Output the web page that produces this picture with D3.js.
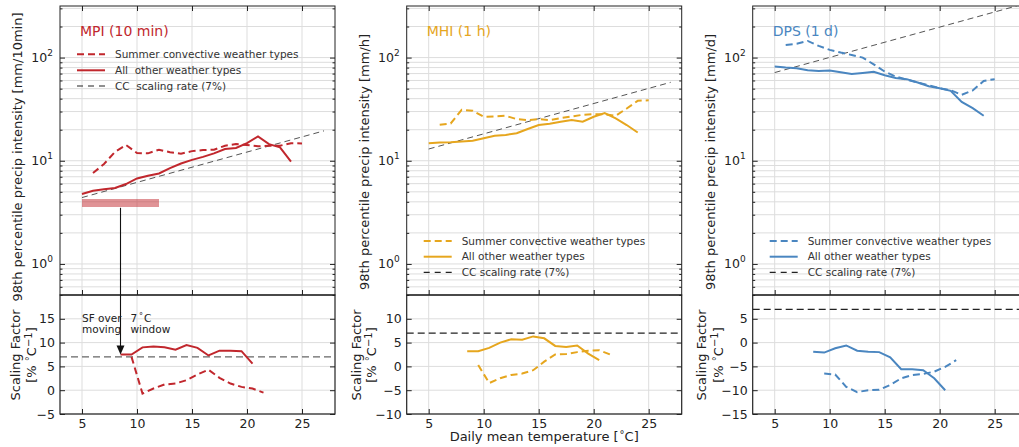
<!DOCTYPE html>
<html>
<head>
<meta charset="utf-8">
<script src="https://cdn.jsdelivr.net/npm/d3@7"></script>
<style>
  body { margin: 0; background: #fff; }
  svg { display: block; font-family: "DejaVu Sans", sans-serif; }
  text { white-space: pre; }
</style>
</head>
<body>
<svg id="chart" width="1019" height="447"></svg>
<script>
// ---- data -------------------------------------------------------------
// daily mean temperature bins (°C) for the 98th percentile intensities
const tempBins = [5, 6, 7, 8, 9, 10, 11, 12, 13, 14, 15, 16, 17, 18, 19, 20, 21, 22, 23, 24, 25];
// centres of the 7 °C moving windows used for the scaling factor
const sfBins = [8.5, 9.5, 10.5, 11.5, 12.5, 13.5, 14.5, 15.5, 16.5, 17.5, 18.5, 19.5, 20.5, 21.5];

// 98th percentile precipitation intensity
const mpiOther = [4.77, 5.13, 5.3, 5.45, 5.95, 6.74, 7.16, 7.53, 8.5, 9.4, 10.2, 10.9, 11.8, 13.0, 13.3, 14.8, 17.2, 14.5, 13.5, 9.8, null];
const mpiConv  = [null, 7.6, 9.3, 12.2, 14.2, 11.9, 11.8, 12.8, 12.1, 11.7, 12.4, 12.7, 12.8, 14.0, 14.5, 14.2, 13.8, 14.0, 14.0, 14.8, 14.7];
const mhiOther = [14.8, 15.0, 15.1, 15.4, 15.6, 16.5, 17.5, 17.8, 18.5, 20.3, 22.2, 22.8, 23.9, 24.8, 23.9, 26.7, 29.0, 25.7, 22.2, 18.8, null];
const mhiConv  = [null, 22.3, 23.0, 31.2, 30.5, 26.7, 26.9, 27.3, 25.3, 24.8, 25.3, 24.8, 25.9, 26.9, 27.9, 28.3, 28.3, 27.3, 32.1, 38.1, 38.6];
const dpsOther = [81.8, 80, 78.9, 75.5, 74.3, 74.8, 72.2, 69.5, 71, 72.8, 67.5, 63.5, 61.8, 57.3, 52.8, 50.5, 47.6, 37.2, 32.4, 27.3, null];
const dpsConv  = [null, 132.7, 136, 145, 129.8, 118.8, 111.8, 106, 100, 86, 73.2, 65.5, 61, 57.3, 54, 50.5, 48.3, 43.6, 48, 59.4, 61.8];

// Clausius-Clapeyron reference line (7 % per °C), end points
const ccTemps = [5, 27];
const ccMPI = [4.4, 19.5];
const ccMHI = [13.0, 57.6];
const ccDPS = [71.6, 317];
const ccRate = 7;

// scaling factors [% per °C]
const mpiSfOther = [7.5, 7.5, 9.0, 9.2, 9.0, 8.5, 9.5, 8.9, 7.3, 8.3, 8.3, 8.2, 5.6, null];
const mpiSfConv  = [null, 7.0, -0.7, 0.35, 1.2, 1.4, 2.1, 3.3, 4.3, 2.6, 1.4, 0.7, 0.35, -0.5];
const mhiSfOther = [3.2, 3.2, 3.9, 5.0, 5.7, 5.6, 6.3, 5.9, 4.3, 4.1, 4.4, 2.7, 1.3, null];
const mhiSfConv  = [null, 0.3, -3.5, -2.5, -1.8, -1.5, -0.8, 1.0, 2.5, 2.6, 3.0, 3.3, 3.4, 2.5];
const dpsSfOther = [-1.9, -2.1, -1.2, -0.6, -1.7, -1.9, -2.0, -3.1, -5.6, -5.6, -5.8, -7.5, -10.0, null];
const dpsSfConv  = [null, -6.5, -6.7, -9.3, -10.4, -10.0, -9.9, -8.9, -7.5, -6.8, -6.6, -6.1, -5.1, -3.7];

// axis ticks
const xTicks = [5, 10, 15, 20, 25];
const logMajor = [1, 10, 100];
const mpiSfTicks = [-5, 0, 5, 10, 15];
const mhiSfTicks = [-10, -5, 0, 5, 10];
const dpsSfTicks = [-15, -10, -5, 0, 5];
const mpiSfDomain = [-5, 20];
const mhiSfDomain = [-10, 15];
const dpsSfDomain = [-15, 10];

// window marker used to explain the scaling factor
const windowSpan = [5, 12];
const windowLevel = 3.9;
const windowCentre = 8.5;

const legendMPI = ["Summer convective weather types", "All  other weather types", "CC  scaling rate (7%)"];
const legendOther = ["Summer convective weather types", "All other weather types", "CC scaling rate (7%)"];

// ---- layout -------------------------------------------------------------
const svg = d3.select("#chart");
const W = 275, yTopPx = 6, yMidPx = 295, yBotPx = 414;
const AX = "#222", GRID = "#dddddd";

const panels = [
  { id: "mpi", left: 60, title: "MPI (10 min)", unit: "[mm/10min]", color: "#c1272d",
    other: mpiOther, conv: mpiConv, cc: ccMPI, sfOther: mpiSfOther, sfConv: mpiSfConv,
    sfDomain: mpiSfDomain, sfTicks: mpiSfTicks, legend: legendMPI, legendTop: true,
    ylabCenter: 157, sfLab: [-40, -24], ccSfColor: "#666" },
  { id: "mhi", left: 406.7, title: "MHI (1 h)", unit: "[mm/h]", color: "#e6a61e",
    other: mhiOther, conv: mhiConv, cc: ccMHI, sfOther: mhiSfOther, sfConv: mhiSfConv,
    sfDomain: mhiSfDomain, sfTicks: mhiSfTicks, legend: legendOther, legendTop: false,
    ylabCenter: 162, sfLab: [-46, -30.5], ccSfColor: "#222" },
  { id: "dps", left: 752.7, title: "DPS (1 d)", unit: "[mm/d]", color: "#4a86c0",
    other: dpsOther, conv: dpsConv, cc: ccDPS, sfOther: dpsSfOther, sfConv: dpsSfConv,
    sfDomain: dpsSfDomain, sfTicks: dpsSfTicks, legend: legendOther, legendTop: false,
    ylabCenter: 162, sfLab: [-46.5, -30], ccSfColor: "#222" }
];

const minorVals = [];
[0.1, 1, 10, 100].forEach(d => { for (let k = 1; k <= 9; k++) { const v = k * d; if (v >= 0.5 && v <= 316 && !logMajor.includes(v)) minorVals.push(+v.toPrecision(3)); } });
const supDigits = { 0: "0", 1: "1", 2: "2" };

const defs = svg.append("defs");

panels.forEach((p, pi) => {
  const x = d3.scaleLinear().domain([3, 28]).range([p.left, p.left + W]);
  const yTop = d3.scaleLog().domain([0.5, Math.pow(10, 2.5)]).range([yMidPx, yTopPx]);
  const ySf = d3.scaleLinear().domain(p.sfDomain).range([yBotPx, yMidPx]);

  const g = svg.append("g");

  defs.append("clipPath").attr("id", "clipTop" + pi)
    .append("rect").attr("x", p.left).attr("y", yTopPx).attr("width", W).attr("height", yMidPx - yTopPx);
  defs.append("clipPath").attr("id", "clipBot" + pi)
    .append("rect").attr("x", p.left).attr("y", yMidPx).attr("width", W).attr("height", yBotPx - yMidPx);

  // grid
  const grid = g.append("g").attr("stroke", GRID).attr("stroke-width", 1).attr("fill", "none");
  xTicks.forEach(t => grid.append("line").attr("x1", x(t)).attr("x2", x(t)).attr("y1", yTopPx).attr("y2", yBotPx));
  logMajor.concat(minorVals).forEach(v => grid.append("line").attr("x1", p.left).attr("x2", p.left + W).attr("y1", yTop(v)).attr("y2", yTop(v)));
  p.sfTicks.forEach(v => grid.append("line").attr("x1", p.left).attr("x2", p.left + W).attr("y1", ySf(v)).attr("y2", ySf(v)));

  // top: intensities
  const top = g.append("g").attr("clip-path", `url(#clipTop${pi})`).attr("fill", "none");
  const lineTop = d3.line().defined(d => d[1] != null).x(d => x(d[0])).y(d => yTop(d[1]));
  top.append("path").datum(ccTemps.map((t, i) => [t, p.cc[i]]))
    .attr("d", lineTop).attr("stroke", "#555").attr("stroke-width", 1).attr("stroke-dasharray", "6,4");
  top.append("path").datum(tempBins.map((t, i) => [t, p.conv[i]]))
    .attr("d", lineTop).attr("stroke", p.color).attr("stroke-width", 2).attr("stroke-dasharray", "7,4");
  top.append("path").datum(tempBins.map((t, i) => [t, p.other[i]]))
    .attr("d", lineTop).attr("stroke", p.color).attr("stroke-width", 2);

  // bottom: scaling factors
  const bot = g.append("g").attr("clip-path", `url(#clipBot${pi})`).attr("fill", "none");
  const lineSf = d3.line().defined(d => d[1] != null).x(d => x(d[0])).y(d => ySf(d[1]));
  bot.append("path").datum([[3, ccRate], [28, ccRate]])
    .attr("d", lineSf).attr("stroke", p.ccSfColor).attr("stroke-width", 1.3).attr("stroke-dasharray", "7,4");
  bot.append("path").datum(sfBins.map((t, i) => [t, p.sfConv[i]]))
    .attr("d", lineSf).attr("stroke", p.color).attr("stroke-width", 2).attr("stroke-dasharray", "7,4");
  bot.append("path").datum(sfBins.map((t, i) => [t, p.sfOther[i]]))
    .attr("d", lineSf).attr("stroke", p.color).attr("stroke-width", 2);

  // frames
  g.append("rect").attr("x", p.left).attr("y", yTopPx).attr("width", W).attr("height", yMidPx - yTopPx)
    .attr("fill", "none").attr("stroke", AX).attr("stroke-width", 1);
  g.append("rect").attr("x", p.left).attr("y", yMidPx).attr("width", W).attr("height", yBotPx - yMidPx)
    .attr("fill", "none").attr("stroke", AX).attr("stroke-width", 1.2);

  // axes: inward ticks on every side
  const styleAxis = sel => {
    sel.select(".domain").remove();
    sel.selectAll(".tick line").attr("stroke", AX);
    sel.selectAll("text").attr("fill", AX).attr("font-size", 12.5).attr("font-family", "DejaVu Sans");
  };
  g.append("g").attr("transform", `translate(${p.left},0)`)
    .call(d3.axisLeft(yTop).tickValues(minorVals).tickSize(-2.5).tickFormat("")).call(styleAxis);
  g.append("g").attr("transform", `translate(${p.left + W},0)`)
    .call(d3.axisRight(yTop).tickValues(minorVals).tickSize(-2.5).tickFormat("")).call(styleAxis);
  g.append("g").attr("transform", `translate(${p.left + W},0)`)
    .call(d3.axisRight(yTop).tickValues(logMajor).tickSize(-5).tickFormat("")).call(styleAxis);
  const yAx = g.append("g").attr("transform", `translate(${p.left},0)`)
    .call(d3.axisLeft(yTop).tickValues(logMajor).tickSize(-5).tickPadding(7)).call(styleAxis);
  yAx.selectAll(".tick text").each(function (d) {
    const t = d3.select(this);
    t.text("10");
    t.append("tspan").attr("dy", -6).attr("font-size", 9).text(supDigits[Math.round(Math.log10(d))]);
  });

  const fmt = v => (v < 0 ? "\u2212" + Math.abs(v) : String(v));
  g.append("g").attr("transform", `translate(${p.left},0)`)
    .call(d3.axisLeft(ySf).tickValues(p.sfTicks).tickSize(-5).tickPadding(5).tickFormat(fmt)).call(styleAxis);
  g.append("g").attr("transform", `translate(${p.left + W},0)`)
    .call(d3.axisRight(ySf).tickValues(p.sfTicks).tickSize(-5).tickFormat("")).call(styleAxis);
  g.append("g").attr("transform", `translate(0,${yBotPx})`)
    .call(d3.axisBottom(x).tickValues(xTicks).tickSize(-5).tickPadding(5).tickFormat(d3.format("d"))).call(styleAxis);
  g.append("g").attr("transform", `translate(0,${yTopPx})`)
    .call(d3.axisTop(x).tickValues(xTicks).tickSize(-5).tickFormat("")).call(styleAxis);
  g.append("g").attr("transform", `translate(0,${yMidPx})`)
    .call(d3.axisBottom(x).tickValues(xTicks).tickSize(-5).tickFormat("")).call(styleAxis);

  // title
  g.append("text").attr("x", p.left + 20).attr("y", 36).attr("font-size", 14)
    .attr("fill", p.color).text(p.title);

  // legend
  const legY = p.legendTop ? [54.3, 70.3, 86] : [241, 256.7, 272.3];
  const legStyles = [
    { color: p.color, dash: "7,4", w: 2 },
    { color: p.color, dash: null, w: 2 },
    { color: "#222", dash: "6,5", w: 1.2 }
  ];
  p.legend.forEach((lab, i) => {
    const ln = g.append("line").attr("x1", p.left + 17).attr("x2", p.left + 45)
      .attr("y1", legY[i]).attr("y2", legY[i]).attr("stroke", legStyles[i].color).attr("stroke-width", legStyles[i].w);
    if (legStyles[i].dash) ln.attr("stroke-dasharray", legStyles[i].dash);
    g.append("text").attr("x", p.left + 55).attr("y", legY[i]).attr("dy", "0.36em")
      .attr("font-size", 10.5).attr("fill", "#333").text(lab);
  });

  // y labels
  const ylx = p.left - 38;
  g.append("text").attr("transform", `translate(${ylx},${p.ylabCenter}) rotate(-90)`)
    .attr("text-anchor", "middle").attr("font-size", 13).attr("fill", AX)
    .text("98th percentile precip intensity " + p.unit);
  g.append("text").attr("transform", `translate(${p.left + p.sfLab[0]},355) rotate(-90)`)
    .attr("text-anchor", "middle").attr("font-size", 13).attr("fill", AX).text("Scaling Factor");
  const u = g.append("text").attr("transform", `translate(${p.left + p.sfLab[1]},355) rotate(-90)`)
    .attr("text-anchor", "middle").attr("font-size", 13).attr("fill", AX);
  u.append("tspan").text("[% ");
  u.append("tspan").attr("font-size", 10).attr("dy", -3).text("\u00b0");
  u.append("tspan").attr("dy", 3).text("C");
  u.append("tspan").attr("font-size", 10).attr("dy", -4.5).text("\u22121");
  u.append("tspan").attr("dy", 4.5).text("]");

  // explanation of the moving window (first panel only)
  if (p.legendTop) {
    g.append("line").attr("x1", x(windowSpan[0])).attr("x2", x(windowSpan[1]))
      .attr("y1", yTop(windowLevel)).attr("y2", yTop(windowLevel))
      .attr("stroke", p.color).attr("stroke-opacity", 0.5).attr("stroke-width", 8);
    const tipY = ySf(p.sfOther[0]);
    const ax = x(windowCentre);
    g.append("line").attr("x1", ax).attr("x2", ax).attr("y1", yTop(3.5)).attr("y2", tipY - 8)
      .attr("stroke", "#111").attr("stroke-width", 1.1);
    g.append("path").attr("d", `M${ax - 4},${tipY - 9}L${ax + 4},${tipY - 9}L${ax},${tipY}Z`).attr("fill", "#111");
    const ann = [["SF over", "7"], ["moving", "window"]];
    const annY = [ySf(14.3), ySf(12.0)];
    ann.forEach((row, i) => {
      g.append("text").attr("x", x(5)).attr("y", annY[i]).attr("font-size", 10.5).attr("fill", "#222").text(row[0]);
      const t2 = g.append("text").attr("x", x(9.4)).attr("y", annY[i]).attr("font-size", 10.5).attr("fill", "#222");
      t2.append("tspan").text(row[1]);
      if (i === 0) {
        t2.append("tspan").attr("dx", 2).attr("font-size", 8).attr("dy", -3).text("\u00b0");
        t2.append("tspan").attr("dx", 1).attr("dy", 3).text("C");
      }
    });
  }

  // shared x label below the centre panel
  if (pi === 1) {
    const xl = g.append("text").attr("x", p.left + W / 2).attr("y", 441)
      .attr("text-anchor", "middle").attr("font-size", 13).attr("fill", AX);
    xl.append("tspan").text("Daily mean temperature [");
    xl.append("tspan").attr("dx", 1).attr("font-size", 10).attr("dy", -3).text("\u00b0");
    xl.append("tspan").attr("dy", 3).text("C]");
  }
});
</script>
</body>
</html>
